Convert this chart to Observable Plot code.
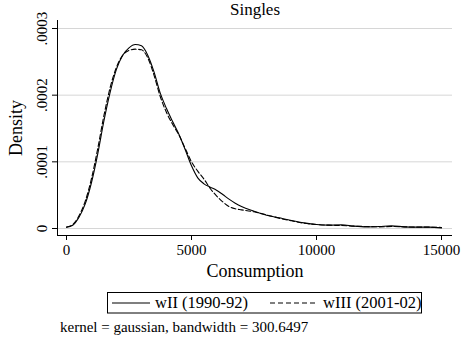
<!DOCTYPE html>
<html>
<head>
<meta charset="utf-8">
<script src="https://cdn.jsdelivr.net/npm/d3@7"></script>
<script src="https://cdn.jsdelivr.net/npm/@observablehq/plot@0.6"></script>
<style>
  html, body { margin: 0; padding: 0; background: #fff; }
  body { position: relative; width: 461px; height: 343px; overflow: hidden; font-family: "Liberation Serif", "DejaVu Serif", serif; color: #000; }
  #title { position: absolute; left: 155px; width: 200px; top: 1px; text-align: center; font-size: 17px; line-height: 18px; }
  #chart { position: absolute; left: 0; top: 20px; }
  #legend { position: absolute; left: 107px; top: 292px; }
  #note { position: absolute; left: 60px; top: 319px; font-size: 15px; line-height: 16px; white-space: nowrap; }
</style>
</head>
<body>
<div id="title">Singles</div>
<div id="chart"></div>
<div id="legend"></div>
<div id="note">kernel = gaussian, bandwidth = 300.6497</div>
<script>
// Consumption grid points
const consumption = [0, 250, 500, 750, 1000, 1250, 1500, 1750, 2000, 2250, 2500, 2750, 3000, 3250, 3500, 3750, 4000, 4250, 4500, 4750, 5000, 5250, 5500, 5750, 6000, 6250, 6500, 6750, 7000, 7500, 8000, 8500, 9000, 9500, 10000, 10500, 11000, 11500, 12000, 12500, 13000, 13500, 14000, 14500, 15000];
// Density, wave II (1990-92)
const densityWII = [2e-6, 5e-6, 1.7e-5, 3.7e-5, 6.9e-5, 1.12e-4, 1.62e-4, 2.05e-4, 2.39e-4, 2.6e-4, 2.71e-4, 2.76e-4, 2.74e-4, 2.6e-4, 2.35e-4, 2.03e-4, 1.8e-4, 1.6e-4, 1.41e-4, 1.18e-4, 9.4e-5, 7.6e-5, 6.7e-5, 6.2e-5, 5.75e-5, 5.1e-5, 4.4e-5, 3.8e-5, 3.3e-5, 2.6e-5, 2.0e-5, 1.6e-5, 1.2e-5, 8.5e-6, 6e-6, 5e-6, 5.5e-6, 3.5e-6, 2.5e-6, 3e-6, 4e-6, 2.5e-6, 2e-6, 2e-6, 1e-6];
// Density, wave III (2001-02)
const densityWIII = [2e-6, 6e-6, 1.9e-5, 4.1e-5, 7.5e-5, 1.2e-4, 1.7e-4, 2.12e-4, 2.42e-4, 2.6e-4, 2.67e-4, 2.69e-4, 2.68e-4, 2.56e-4, 2.3e-4, 1.98e-4, 1.74e-4, 1.56e-4, 1.4e-4, 1.2e-4, 1.0e-4, 8.6e-5, 7.4e-5, 6.0e-5, 4.9e-5, 4.0e-5, 3.3e-5, 2.95e-5, 2.8e-5, 2.5e-5, 2.05e-5, 1.55e-5, 1.15e-5, 8e-6, 6e-6, 5e-6, 4.5e-6, 3.5e-6, 3e-6, 2.5e-6, 3e-6, 2.5e-6, 2e-6, 2e-6, 1.5e-6];

const seriesNames = ["wII (1990-92)", "wIII (2001-02)"];
const xTicks = [0, 5000, 10000, 15000];
const yTicks = [0, 0.0001, 0.0002, 0.0003];
const yTickLabels = ["0", ".0001", ".0002", ".0003"];
const xDomain = [-360, 15440];
const yDomain = [-0.0000105, 0.000312];

const rowsII = consumption.map((c, i) => ({x: c, y: densityWII[i]}));
const rowsIII = consumption.map((c, i) => ({x: c, y: densityWIII[i]}));

const FONT = "Liberation Serif";

const plot = Plot.plot({
  width: 461,
  height: 265,
  marginLeft: 57,
  marginRight: 9,
  marginTop: 0,
  marginBottom: 50,
  style: {fontFamily: FONT, background: "transparent", overflow: "visible", color: "#000"},
  x: {domain: xDomain},
  y: {domain: yDomain},
  marks: [
    Plot.gridY(yTicks, {stroke: "#d6d6d6", strokeOpacity: 1, strokeWidth: 1}),
    Plot.ruleX([xDomain[0]], {stroke: "#000", strokeWidth: 1}),
    Plot.ruleY([yDomain[0]], {stroke: "#000", strokeWidth: 1}),
    Plot.axisX({ticks: xTicks, tickSize: 5, tickPadding: 4, fontSize: 15, fontFamily: FONT, tickFormat: d3.format("d"), label: null}),
    Plot.axisY({ticks: yTicks, tickSize: 5, tickFormat: () => "", label: null}),
    Plot.text(yTicks, {y: d => d, frameAnchor: "left", dx: -15, rotate: -90, text: (d, i) => yTickLabels[i], fontSize: 15, fontFamily: FONT, textAnchor: "middle", lineAnchor: "middle"}),
    Plot.text(["Consumption"], {frameAnchor: "bottom", dy: 36, fontSize: 18, fontFamily: FONT, textAnchor: "middle", lineAnchor: "middle"}),
    Plot.text(["Density"], {frameAnchor: "left", dx: -41, rotate: -90, fontSize: 18, fontFamily: FONT, textAnchor: "middle", lineAnchor: "middle"}),
    Plot.line(rowsII, {x: "x", y: "y", stroke: "#000", strokeWidth: 1.1, curve: "monotone-x"}),
    Plot.line(rowsIII, {x: "x", y: "y", stroke: "#000", strokeWidth: 1.1, strokeDasharray: "5,2.5", curve: "monotone-x"})
  ]
});
document.getElementById("chart").appendChild(plot);

// Legend
const ns = "http://www.w3.org/2000/svg";
const lg = document.createElementNS(ns, "svg");
lg.setAttribute("width", 316);
lg.setAttribute("height", 22);
lg.style.overflow = "visible";
lg.innerHTML = `
  <rect x="0.5" y="0.5" width="314" height="20.5" fill="#fff" stroke="#000" stroke-width="1"/>
  <line x1="5" x2="43" y1="11" y2="11" stroke="#000" stroke-width="1.1"/>
  <text x="48" y="16" font-family="${FONT}" font-size="16.5">${seriesNames[0]}</text>
  <line x1="163" x2="211" y1="11" y2="11" stroke="#000" stroke-width="1.1" stroke-dasharray="5,3"/>
  <text x="216" y="16" font-family="${FONT}" font-size="16.5">${seriesNames[1]}</text>`;
document.getElementById("legend").appendChild(lg);
</script>
</body>
</html>
